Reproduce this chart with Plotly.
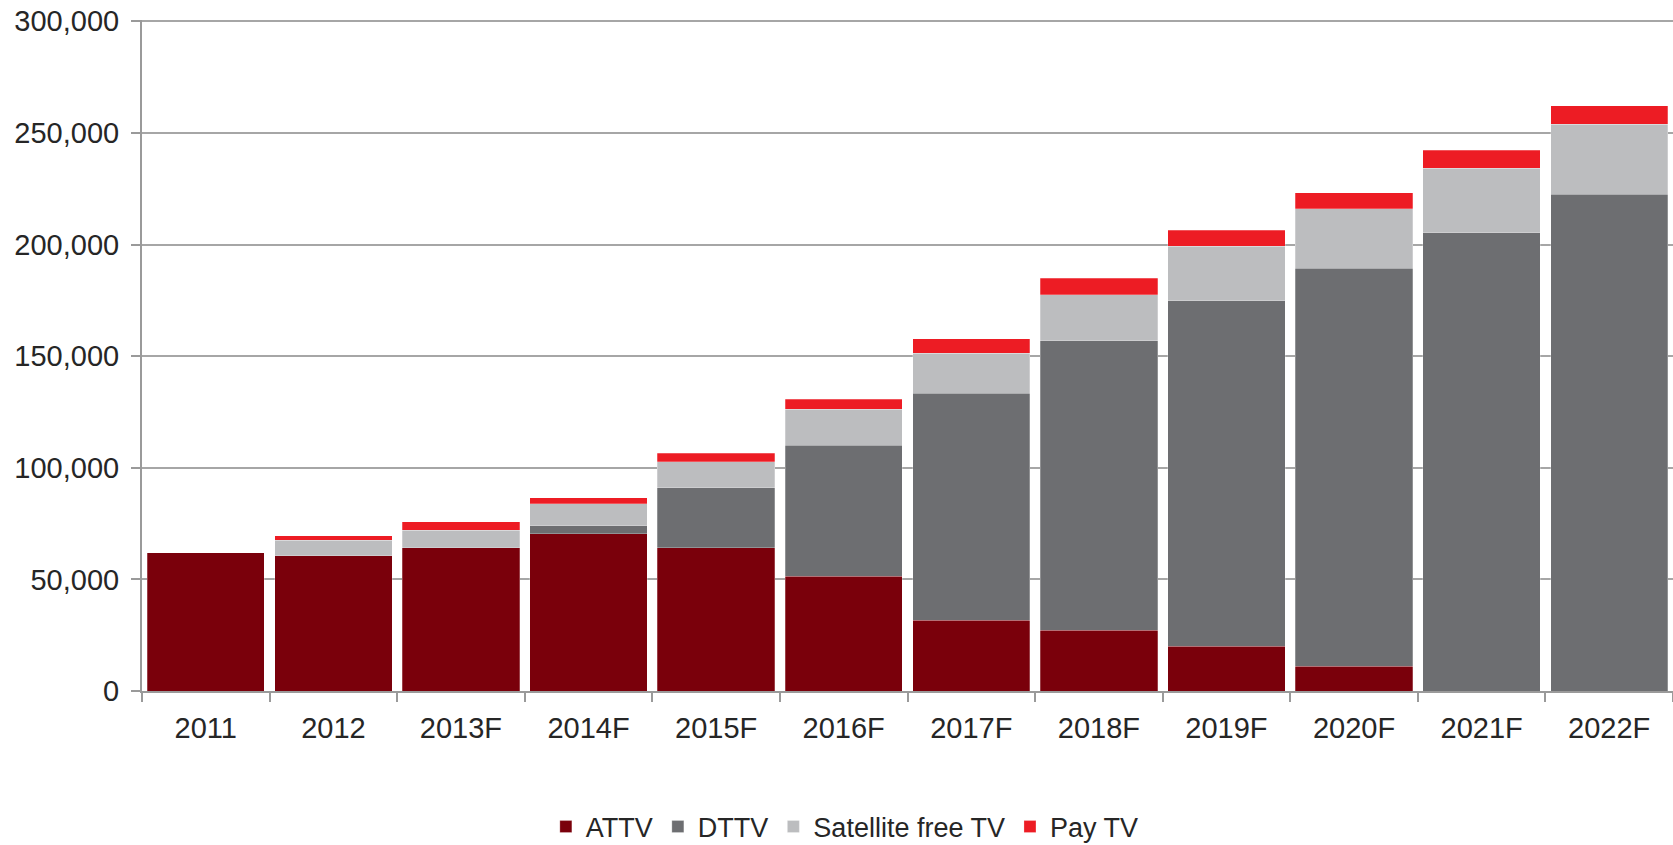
import plotly.graph_objects as go

years = ["2011", "2012", "2013F", "2014F", "2015F", "2016F", "2017F", "2018F",
         "2019F", "2020F", "2021F", "2022F"]
attv = [62000, 60600, 64100, 70400, 64100, 51500, 31800, 27300, 20000, 11000, 0, 0]
dttv = [0, 0, 0, 3600, 27000, 58600, 101500, 129500, 154800, 178300, 205400, 222500]
sat_free = [0, 7000, 7900, 9900, 11700, 16100, 18000, 20700, 24400, 26800, 28700, 31400]
pay_tv = [0, 1900, 3800, 2700, 3600, 4600, 6500, 7300, 7200, 7100, 8200, 8200]
y_ticks = [0, 50000, 100000, 150000, 200000, 250000, 300000]

series = [
    ("ATTV", attv, "#7a000b"),
    ("DTTV", dttv, "#6d6e71"),
    ("Satellite free TV", sat_free, "#bcbdbf"),
    ("Pay TV", pay_tv, "#ed1c24"),
]

fig = go.Figure()
for name, vals, col in series:
    fig.add_trace(go.Bar(
        x=years, y=vals, name=name,
        marker=dict(color=col, line=dict(color="rgba(255,255,255,0.5)", width=0.5)),
    ))

font = dict(family="Liberation Sans, Arial, sans-serif", size=29, color="#262626")

fig.update_layout(
    barmode="stack",
    bargap=0.08,
    width=1673, height=845,
    margin=dict(l=142, r=0, t=20, b=154),
    plot_bgcolor="white", paper_bgcolor="white",
    font=font,
    showlegend=True,
    legend=dict(orientation="h", xref="container", yref="container",
                x=0.505, xanchor="center", y=0.0213, yanchor="middle",
                font=dict(family=font["family"], size=27, color="#262626"),
                itemwidth=30, traceorder="normal"),
    xaxis=dict(
        showline=True, linecolor="#9a9a9a", linewidth=2,
        ticks="outside", tickson="boundaries", ticklen=9, tickcolor="#9a9a9a", tickwidth=2,
        ticklabelstandoff=10, showgrid=False,
    ),
    yaxis=dict(
        range=[0, 300600], tickvals=y_ticks, tickformat=",",
        showline=True, linecolor="#9a9a9a", linewidth=2,
        ticks="outside", ticklen=9, tickcolor="#9a9a9a", tickwidth=2,
        showgrid=True, gridcolor="#a6a6a6", gridwidth=2,
        ticklabelstandoff=6, zeroline=False,
    ),
)

fig.write_html("out.html", config={"displayModeBar": False},
               post_script="document.body.style.margin='0';")
